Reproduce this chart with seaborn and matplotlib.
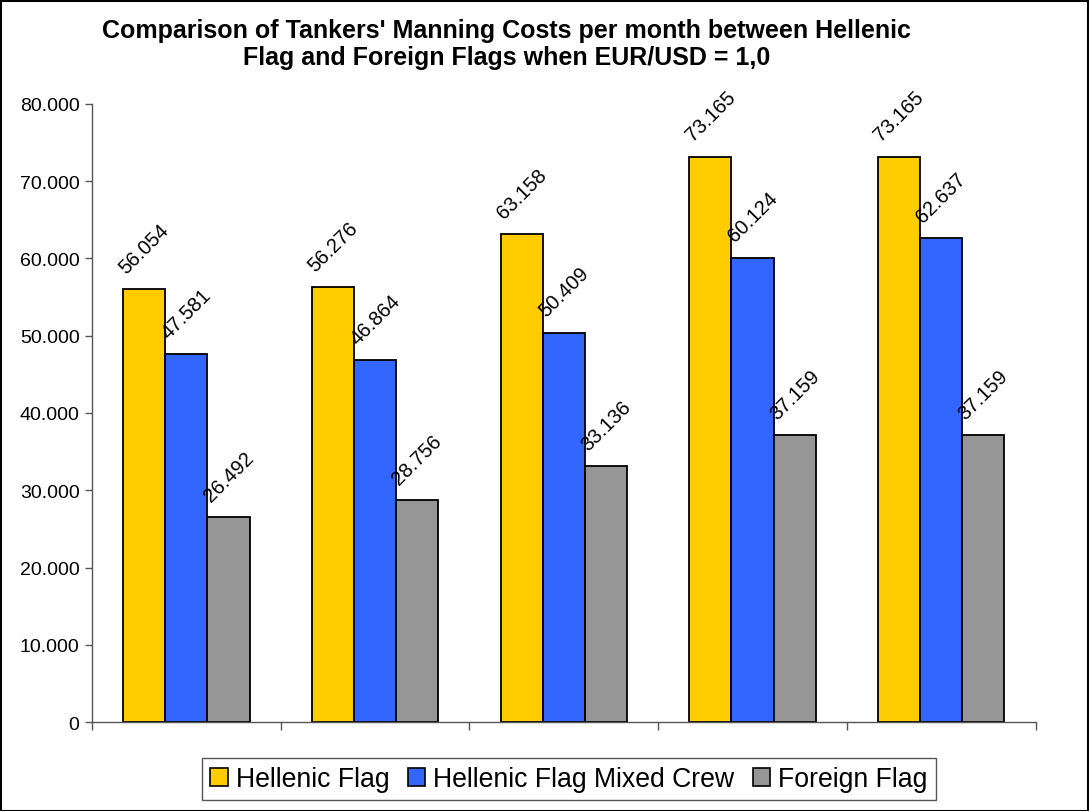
import pandas as pd
import matplotlib.pyplot as plt
import matplotlib.ticker as mticker
from matplotlib.patches import Rectangle, Patch
import seaborn as sns

sns.set_style("ticks")
plt.rcParams['font.family'] = ['Liberation Sans', 'DejaVu Sans']
plt.rcParams['text.color'] = 'black'
plt.rcParams['ytick.labelcolor'] = 'black'

# Data
groups = ['1', '2', '3', '4', '5']
series = ['Hellenic Flag', 'Hellenic Flag Mixed Crew', 'Foreign Flag']
hellenic = [56054, 56276, 63158, 73165, 73165]
mixed = [47581, 46864, 50409, 60124, 62637]
foreign = [26492, 28756, 33136, 37159, 37159]
colors = ['#FFCC00', '#3366FF', '#969696']

df = pd.DataFrame({
    'group': groups * 3,
    'flag': [s for s in series for _ in groups],
    'cost': hellenic + mixed + foreign,
})


def eu_fmt(v):
    return f"{v:,.0f}".replace(',', '.')


fig = plt.figure(figsize=(10.89, 8.12), dpi=100)
ax = fig.add_axes([0.0845, 0.1096, 0.8665, 0.7611])

sns.barplot(data=df, x='group', y='cost', hue='flag', hue_order=series,
            palette=colors, width=0.67, saturation=1, errorbar=None,
            edgecolor='black', linewidth=1.3, ax=ax)

for cont, vals in zip(ax.containers, [hellenic, mixed, foreign]):
    ax.bar_label(cont, labels=[eu_fmt(v) for v in vals], rotation=45,
                 padding=9, fontsize=14.5, color='black')

ax.set_ylim(0, 80000)
ax.set_xlim(-0.5, 4.5)
ax.yaxis.set_major_locator(mticker.MultipleLocator(10000))
ax.yaxis.set_major_formatter(mticker.FuncFormatter(lambda v, p: eu_fmt(v)))
ax.tick_params(axis='y', labelsize=14, length=5, width=1, color='#555555', pad=4)
ax.set_xticks([i - 0.5 for i in range(6)])
ax.set_xticklabels([])
ax.tick_params(axis='x', length=6, width=1, color='#555555')
ax.set_xlabel('')
ax.set_ylabel('')
for side in ['top', 'right']:
    ax.spines[side].set_visible(False)
for side in ['left', 'bottom']:
    ax.spines[side].set_color('#555555')
    ax.spines[side].set_linewidth(1)

ax.get_legend().remove()
handles = [Patch(facecolor=c, edgecolor='black', linewidth=1.2) for c in colors]
fig.legend(handles, series, loc='center', bbox_to_anchor=(0.5225, 0.0394), ncol=3,
           fontsize=19.2, frameon=True, fancybox=False, edgecolor='#555555',
           handlelength=0.65, handleheight=0.65, handletextpad=0.3,
           columnspacing=0.7, borderpad=0.3, framealpha=1)

fig.text(0.465, 0.977, "Comparison of Tankers' Manning Costs per month between Hellenic\n"
         "Flag and Foreign Flags when EUR/USD = 1,0",
         ha='center', va='top', fontsize=18, fontweight='bold', linespacing=1.2)

fig.patches.append(Rectangle((0.001, 0.0), 0.998, 0.998, transform=fig.transFigure,
                             fill=False, edgecolor='black', linewidth=1.5))

fig.savefig('out.png', dpi=100)
